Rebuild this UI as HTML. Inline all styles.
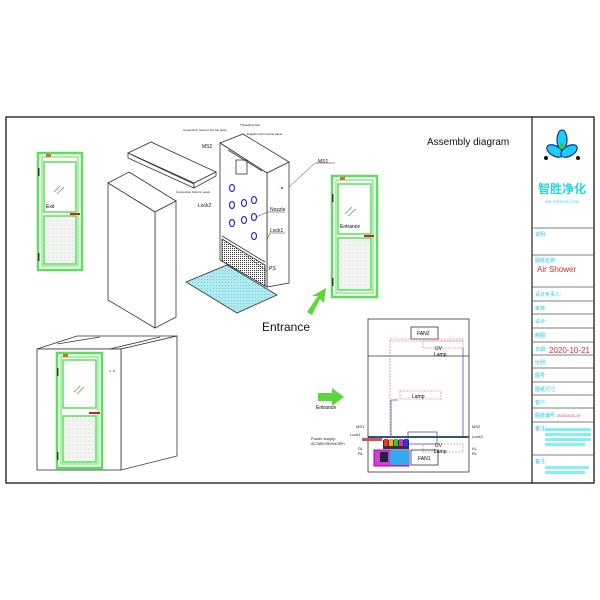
<!DOCTYPE html>
<html><head><meta charset="utf-8"><style>
html,body{margin:0;padding:0;background:#fff;width:600px;height:600px;overflow:hidden}
svg{display:block}
text{font-family:"Liberation Sans","Noto Sans CJK SC",sans-serif}
</style></head><body>
<svg width="600" height="600" viewBox="0 0 600 600" xmlns="http://www.w3.org/2000/svg">
<defs>
<pattern id="dots" width="4" height="4" patternUnits="userSpaceOnUse"><rect width="4" height="4" fill="#f4f6f4"/><circle cx="1" cy="1" r="0.5" fill="#bbb"/><circle cx="3" cy="3" r="0.4" fill="#ccc"/></pattern>
<pattern id="grille" width="2" height="2" patternUnits="userSpaceOnUse"><rect width="2" height="2" fill="#fff"/><rect width="1" height="1" fill="#333"/></pattern>
<pattern id="mat" width="3" height="3" patternUnits="userSpaceOnUse"><rect width="3" height="3" fill="#aeeaf0"/><rect width="1" height="1" fill="#7cd"/></pattern>
</defs>
<rect x="6" y="117" width="588" height="366" fill="none" stroke="#333" stroke-width="1.5"/>
<line x1="532" y1="117" x2="532" y2="483" stroke="#222" stroke-width="1.2"/>
<g stroke="#555" stroke-width="0.7">
<line x1="532" y1="228" x2="594" y2="228"/><line x1="532" y1="255" x2="594" y2="255"/>
<line x1="532" y1="287" x2="594" y2="287"/><line x1="532" y1="301" x2="594" y2="301"/>
<line x1="532" y1="314" x2="594" y2="314"/><line x1="532" y1="328" x2="594" y2="328"/>
<line x1="532" y1="342" x2="594" y2="342"/><line x1="532" y1="355" x2="594" y2="355"/>
<line x1="532" y1="368" x2="594" y2="368"/><line x1="532" y1="382" x2="594" y2="382"/>
<line x1="532" y1="395" x2="594" y2="395"/><line x1="532" y1="408" x2="594" y2="408"/>
<line x1="532" y1="422" x2="594" y2="422"/><line x1="532" y1="455" x2="594" y2="455"/>
</g>
<g stroke="#1a2fb0" stroke-width="1.2" fill="#19d0f0">
<ellipse cx="562" cy="140" rx="5" ry="10"/>
<ellipse cx="555" cy="151" rx="9" ry="5" transform="rotate(30 555 151)"/>
<ellipse cx="569" cy="151" rx="9" ry="5" transform="rotate(-30 569 151)"/>
</g>
<circle cx="562" cy="146" r="3" fill="#30d040"/>
<circle cx="546" cy="158" r="2" fill="#111"/><circle cx="578" cy="158" r="2" fill="#111"/>
<text x="562" y="193" font-size="12" fill="#29d6e0" text-anchor="middle" font-weight="bold">智胜净化</text>
<text x="562" y="203" font-size="4" fill="#29d6e0" text-anchor="middle">WE ZSHSJH.COM</text>
<g font-size="5" fill="#22c8e8">
<text x="535" y="236">说明:</text><text x="535" y="262">图纸名称:</text>
<text x="535" y="296">设计负责人:</text><text x="535" y="310">审核:</text>
<text x="535" y="323">设计:</text><text x="535" y="337">制图:</text>
<text x="535" y="351">日期:</text><text x="535" y="364">比例:</text>
<text x="535" y="377">图号:</text><text x="535" y="391">图纸尺寸:</text>
<text x="535" y="404">客户:</text><text x="535" y="417">图纸编号:</text>
<text x="535" y="430">备注:</text><text x="535" y="463">备注:</text>
</g>
<g fill="#6ee" opacity="0.8"><rect x="545" y="428" width="46" height="3"/><rect x="545" y="433" width="46" height="3"/><rect x="545" y="438" width="46" height="3"/><rect x="545" y="443" width="40" height="3"/><rect x="545" y="466" width="44" height="3"/><rect x="545" y="471" width="40" height="3"/></g>
<text x="537" y="272" font-size="8" fill="#c33">Air Shower</text>
<text x="549" y="353" font-size="8" fill="#c33">2020-10-21</text>
<text x="557" y="417" font-size="4" fill="#c33">20201021-1F</text>
<text x="427" y="145" font-size="10" fill="#111">Assembly  diagram</text>

<g>
<rect x="38" y="153" width="44" height="117" fill="none" stroke="#5be05b" stroke-width="2.5"/>
<rect x="42" y="157" width="36" height="109" fill="none" stroke="#5be05b" stroke-width="1"/>
<rect x="44" y="162" width="32" height="50" fill="#fff" stroke="#5be05b" stroke-width="1.5"/>
<rect x="44" y="216" width="32" height="48" fill="url(#dots)" stroke="#5be05b" stroke-width="1.5"/>
<line x1="54" y1="192" x2="60" y2="186" stroke="#8a8" /><line x1="57" y1="194" x2="64" y2="187" stroke="#8a8"/>
<rect x="70" y="213" width="10" height="2" fill="#c22"/><rect x="46" y="154" width="5" height="3" fill="#d63"/>
<rect x="38" y="168" width="1.5" height="8" fill="#333"/><rect x="38" y="253" width="1.5" height="8" fill="#333"/>
<text x="46" y="208" font-size="5">Exit</text>
</g>
<g>
<rect x="332" y="176" width="45" height="121" fill="none" stroke="#5be05b" stroke-width="2.5"/>
<rect x="336" y="180" width="37" height="113" fill="none" stroke="#5be05b" stroke-width="1"/>
<rect x="338" y="184" width="33" height="50" fill="#fff" stroke="#5be05b" stroke-width="1.5"/>
<rect x="338" y="238" width="33" height="52" fill="url(#dots)" stroke="#5be05b" stroke-width="1.5"/>
<line x1="345" y1="214" x2="352" y2="207" stroke="#8a8"/><line x1="348" y1="216" x2="356" y2="209" stroke="#8a8"/>
<rect x="364" y="235" width="10" height="2" fill="#c22"/><rect x="340" y="177" width="5" height="3" fill="#d63"/>
<rect x="332" y="194" width="1.5" height="8" fill="#333"/><rect x="332" y="278" width="1.5" height="8" fill="#333"/>
<text x="340" y="228" font-size="5">Entrance</text>
</g>

<g fill="#fff" stroke="#333" stroke-width="0.8">
<polygon points="108,183 129,172 176,201 155,212"/>
<polygon points="155,212 176,201 176,317 155,328"/>
<polygon points="108,183 155,212 155,328 108,300"/>
</g>
<g fill="#fff" stroke="#333" stroke-width="0.8">
<polygon points="128,153 151,142 216,172 194,183"/>
<polygon points="128,153 194,183 194,188 128,158"/>
<polygon points="194,183 216,172 216,176 194,188"/>
<line x1="132" y1="155" x2="194" y2="184"/>
</g>
<g fill="#fff" stroke="#333" stroke-width="0.8">
<polygon points="220,143 243,134 289,162 267,173"/>
<polygon points="267,173 289,162 289,283 267,287"/>
<polygon points="220,143 267,173 267,287 220,260"/>
<polygon points="222,239 265,265 265,286 222,261" fill="url(#grille)"/>
<line x1="228" y1="150" x2="262" y2="171"/><line x1="222" y1="236" x2="265" y2="262"/>
</g>
<rect x="236" y="160" width="11" height="14" fill="none" stroke="#333" stroke-width="0.8"/>
<g fill="#fff" stroke="#33c" stroke-width="1.2">
<ellipse cx="232" cy="188" rx="2.5" ry="3.5"/><ellipse cx="232" cy="205" rx="2.5" ry="3.5"/><ellipse cx="244" cy="203" rx="2.5" ry="3.5"/><ellipse cx="254" cy="200" rx="2.5" ry="3.5"/>
<ellipse cx="232" cy="223" rx="2.5" ry="3.5"/><ellipse cx="244" cy="220" rx="2.5" ry="3.5"/><ellipse cx="254" cy="217" rx="2.5" ry="3.5"/><ellipse cx="254" cy="236" rx="2.5" ry="3.5"/>
</g>
<polygon points="186,282 227,265 277,295 237,313" fill="url(#mat)" stroke="#333" stroke-width="0.8"/>
<circle cx="282" cy="188" r="1" fill="#c22"/>
<g font-size="5" fill="#111" stroke="none">
<text x="202" y="148">MS2</text><text x="198" y="207">Lock2</text><text x="270" y="211">Nozzle</text>
<text x="270" y="232">Lock1</text><text x="269" y="270">PS</text><text x="318" y="163">MS1</text>
<text x="183" y="131" font-size="3">Connection hole for the top plate</text>
<text x="240" y="126" font-size="3">Threading hole</text>
<text x="247" y="135" font-size="3">English LCD Control panel</text>
<text x="176" y="193" font-size="3">Connection hole for seam</text>
</g>
<g stroke="#333" stroke-width="0.5" fill="none">
<polyline points="289,187 315,163 335,163"/><polyline points="256,217 268,212 285,212"/><polyline points="267,240 270,233 285,233"/>
<line x1="245" y1="255" x2="267" y2="271"/>
</g>
<text x="262" y="331" font-size="12" fill="#111">Entrance</text>
<polygon points="307,312 318,296 312,296 326,288 324,303 320,299 312,315" fill="#5cd63a"/>

<g fill="#fff" stroke="#333" stroke-width="0.8">
<polygon points="37,349 77,336 177,336 121,349"/>
<polygon points="121,349 177,336 177,456 121,470"/>
<rect x="37" y="349" width="84" height="121"/>
<line x1="57" y1="344" x2="100" y2="337"/><line x1="110" y1="349" x2="160" y2="337"/>
</g>
<rect x="57" y="353" width="45" height="115" fill="none" stroke="#5be05b" stroke-width="2.5"/>
<rect x="61" y="357" width="37" height="107" fill="none" stroke="#5be05b" stroke-width="1"/>
<rect x="63" y="360" width="33" height="48" fill="#fff" stroke="#5be05b" stroke-width="1.5"/>
<rect x="63" y="416" width="33" height="46" fill="url(#dots)" stroke="#5be05b" stroke-width="1.5"/>
<line x1="74" y1="392" x2="80" y2="386" stroke="#8a8"/><line x1="77" y1="394" x2="84" y2="387" stroke="#8a8"/>
<rect x="89" y="412" width="11" height="2" fill="#c22"/><rect x="63" y="354" width="5" height="3" fill="#d63"/>
<rect x="57" y="368" width="1.5" height="8" fill="#333"/><rect x="57" y="452" width="1.5" height="8" fill="#333"/>
<circle cx="110" cy="371" r="0.8" fill="#393"/><circle cx="114" cy="371" r="0.8" fill="#c22"/>

<polygon points="318,393 332,393 332,388 344,397 332,406 332,401 318,401" fill="#5cd63a"/>
<text x="316" y="409" font-size="5">Entrance</text>
<rect x="368" y="319" width="101" height="153" fill="none" stroke="#333" stroke-width="0.8"/>
<line x1="368" y1="356" x2="469" y2="356" stroke="#333" stroke-width="0.8"/>
<rect x="411" y="327" width="27" height="12" fill="#fff" stroke="#333" stroke-width="0.8"/>
<text x="417" y="335" font-size="5">FAN2</text>
<rect x="411" y="450" width="27" height="15" fill="#fff" stroke="#333" stroke-width="0.8"/>
<text x="418" y="460" font-size="5">FAN1</text>
<g fill="none" stroke="#c66" stroke-width="0.6" stroke-dasharray="2,1">
<rect x="390" y="339" width="73" height="2"/><rect x="423" y="341" width="40" height="7"/>
<rect x="400" y="391" width="41" height="8"/><rect x="423" y="444" width="40" height="8"/>
<line x1="390" y1="340" x2="390" y2="440"/>
</g>
<text x="435" y="350" font-size="5">UV</text><text x="434" y="356" font-size="5">Lamp</text>
<text x="412" y="398" font-size="5">Lamp</text>
<text x="435" y="447" font-size="5">UV</text><text x="434" y="453" font-size="5">Lamp</text>
<g fill="none" stroke="#55a" stroke-width="0.8">
<polyline points="391,438 391,400 398,400"/><polyline points="463,348 463,436"/>
<rect x="408" y="432" width="29" height="12"/>
</g>
<line x1="368" y1="437" x2="469" y2="437" stroke="#357" stroke-width="2"/>
<rect x="362" y="438" width="20" height="3" fill="#c55"/>
<rect x="383" y="440" width="26" height="9" fill="#333"/>
<rect x="384" y="439" width="4" height="7" fill="#e33"/><rect x="389" y="439" width="4" height="7" fill="#fa0"/><rect x="394" y="439" width="4" height="7" fill="#3c3"/><rect x="399" y="439" width="4" height="7" fill="#c3c"/><rect x="404" y="439" width="4" height="7" fill="#33f"/>
<rect x="374" y="450" width="35" height="16" fill="#c4c" stroke="#a0a"/>
<rect x="380" y="452" width="8" height="10" fill="#224"/><rect x="390" y="450" width="19" height="15" fill="#3ae"/>
<g font-size="4" fill="#222">
<text x="356" y="428">MS1</text><text x="350" y="436">Lock1</text>
<text x="311" y="440">Power supply:</text><text x="311" y="445">AC380V/50Hz/3Ph</text>
<text x="358" y="450">DL</text><text x="358" y="455">RL</text>
<text x="472" y="428">MS2</text><text x="472" y="438">Lock3</text>
<text x="472" y="450">KL</text><text x="472" y="455">RL</text>
</g>
</svg>
</body></html>
